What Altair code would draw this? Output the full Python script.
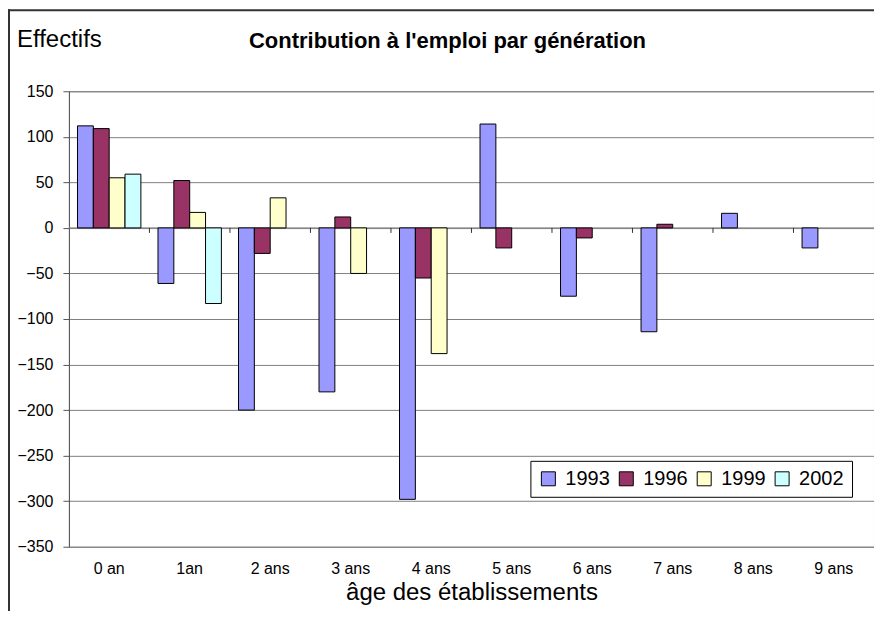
import altair as alt
import pandas as pd

# ---- data ----
ages = ["0 an", "1an", "2 ans", "3 ans", "4 ans", "5 ans", "6 ans", "7 ans", "8 ans", "9 ans"]
years = ["1993", "1996", "1999", "2002"]
v1993 = [112, -61, -200, -180, -298, 114, -75, -114, 16, -22]
v1996 = [109, 52, -28, 12, -55, -22, -11, 4, None, None]
v1999 = [55, 17, 33, -50, -138, None, None, None, None, None]
v2002 = [59, -83, None, None, None, None, None, None, None, None]
colors = ["#9999FF", "#993366", "#FFFFCC", "#CCFFFF"]
y_ticks = [150, 100, 50, 0, -50, -100, -150, -200, -250, -300, -350]

title_text = "Contribution à l'emploi par génération"
y_title = "Effectifs"
x_title = "âge des établissements"

rows = []
for yr, vals in zip(years, [v1993, v1996, v1999, v2002]):
    for a, v in zip(ages, vals):
        if v is not None:
            rows.append({"age": a, "annee": yr, "valeur": v})
df = pd.DataFrame(rows)

FONT = "Liberation Sans"
W, H = 806, 456

xscale = alt.Scale(domain=ages, paddingInner=0, paddingOuter=0)
yscale = alt.Scale(domain=[-350, 150], nice=False, zero=False)

bars = alt.Chart(df).mark_bar(stroke="black", strokeWidth=1).encode(
    x=alt.X("age:N", sort=ages, scale=xscale,
            axis=alt.Axis(title=x_title, labelAngle=0, domain=False, ticks=False, grid=False,
                          labelFontSize=16, labelFont=FONT, labelColor="black",
                          labelPadding=14, titleFontSize=24, titleFont=FONT,
                          titleFontWeight="normal", titleColor="black", titlePadding=4)),
    xOffset=alt.XOffset("annee:N", scale=alt.Scale(domain=years, paddingInner=0, paddingOuter=0.54)),
    y=alt.Y("valeur:Q", scale=yscale,
            axis=alt.Axis(title=None, values=y_ticks, grid=True, gridColor="#808080",
                          gridWidth=1, domainColor="#555555", tickColor="#555555",
                          tickSize=6, labelPadding=10, labelFontSize=16, labelFont=FONT,
                          labelColor="black")),
    color=alt.Color("annee:N", scale=alt.Scale(domain=years, range=colors),
                    legend=alt.Legend(title=None, orient="none", legendX=462, legendY=370,
                                      direction="horizontal", symbolType="square",
                                      symbolSize=196, symbolStrokeColor="black",
                                      symbolStrokeWidth=1, labelFontSize=20, labelFont=FONT,
                                      labelColor="black", labelOffset=7, columnPadding=6,
                                      padding=8, strokeColor="black", fillColor="white")),
)

tick_df = pd.DataFrame({"age": ages[1:]})
zero_ticks = alt.Chart(tick_df).mark_rule(color="#333333", strokeWidth=1).encode(
    x=alt.X("age:N", sort=ages, scale=xscale, bandPosition=0),
    y=alt.datum(0),
    y2=alt.datum(-5.5),
)

zero_line = alt.Chart(pd.DataFrame({"z": [0]})).mark_rule(color="#808080", strokeWidth=1).encode(
    y=alt.Y("z:Q", scale=yscale),
    x=alt.value(0), x2=alt.value(W),
)

ytitle = alt.Chart(pd.DataFrame({"t": [y_title]})).mark_text(
    align="left", baseline="alphabetic", fontSize=24, font=FONT, color="black"
).encode(text="t:N", x=alt.value(-52), y=alt.value(-44))

ctitle = alt.Chart(pd.DataFrame({"t": [title_text]})).mark_text(
    align="center", baseline="alphabetic", fontSize=22, fontWeight="bold", font=FONT, color="black"
).encode(text="t:N", x=alt.value(379), y=alt.value(-43))

frame_top = alt.Chart(pd.DataFrame({"f": [0]})).mark_rule(color="#333333", strokeWidth=2).encode(
    x=alt.value(-61), x2=alt.value(W + 10), y=alt.value(-81)
)
frame_left = alt.Chart(pd.DataFrame({"f": [0]})).mark_rule(color="#333333", strokeWidth=2).encode(
    x=alt.value(-60), y=alt.value(-82), y2=alt.value(H + 80)
)

chart = alt.layer(zero_line, bars, zero_ticks, ytitle, ctitle, frame_top, frame_left).properties(
    width=W, height=H,
    autosize=alt.AutoSizeParams(type="none"),
    padding={"left": 61, "top": 83, "right": 0, "bottom": 64},
).configure_view(stroke="#808080", strokeWidth=1)

chart.save("out.html", embed_options={"renderer": "svg", "actions": False})
